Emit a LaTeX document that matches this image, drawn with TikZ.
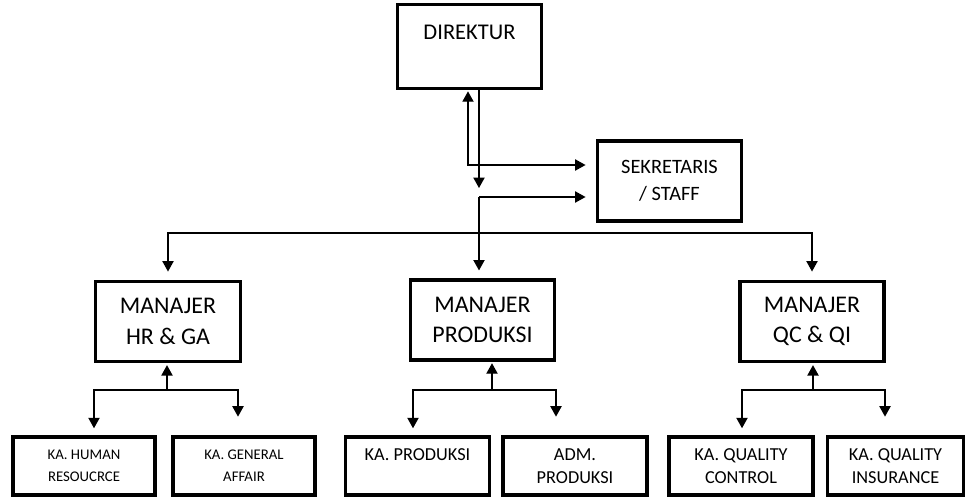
\documentclass[tikz,border=0pt]{standalone}
\usepackage{fontspec}
\setmainfont{Carlito}
\usetikzlibrary{arrows.meta}

\begin{document}
\begin{tikzpicture}[x=0.025cm,y=-0.025cm,
  >={Triangle[length=2.6mm,width=2.8mm]},
  box/.style={draw=black,line width=2.2pt,rectangle,align=center,inner sep=0pt},
  link/.style={draw=black,line width=0.9pt}]
\useasboundingbox (0,0) rectangle (965,497);

% Direktur and secretary
\node[box,minimum width=3.62cm,minimum height=2.08cm,font=\fontsize{16}{20}\selectfont] (direktur) at (469.5,46.5) {DIREKTUR\\\mbox{}};
\node[box,minimum width=3.62cm,minimum height=2cm,font=\fontsize{14.5}{19}\selectfont] (sekretaris) at (669.5,181) {SEKRETARIS\\/ STAFF};

% Managers
\node[box,minimum width=3.62cm,minimum height=2.02cm,font=\fontsize{17}{21.5}\selectfont] (mhr) at (168,321.5) {MANAJER\\HR \& GA};
\node[box,minimum width=3.62cm,minimum height=2cm,font=\fontsize{17}{21.5}\selectfont] (mprod) at (482.5,320) {MANAJER\\PRODUKSI};
\node[box,minimum width=3.6cm,minimum height=2.02cm,font=\fontsize{17}{21.5}\selectfont] (mqc) at (812,321.5) {MANAJER\\QC \& QI};

% Heads of section
\node[box,minimum width=3.55cm,minimum height=1.45cm,font=\fontsize{10.5}{15.5}\selectfont] (kahr) at (84,466) {KA. HUMAN\\RESOUCRCE};
\node[box,minimum width=3.55cm,minimum height=1.45cm,font=\fontsize{10.5}{15.5}\selectfont] (kaga) at (244,466) {KA. GENERAL\\AFFAIR};
\node[box,minimum width=3.58cm,minimum height=1.45cm,font=\fontsize{13}{16}\selectfont] (kaprod) at (417.5,466) {KA. PRODUKSI\\\mbox{}};
\node[box,minimum width=3.6cm,minimum height=1.45cm,font=\fontsize{13}{16}\selectfont] (admprod) at (575,466) {ADM.\\PRODUKSI};
\node[box,minimum width=3.6cm,minimum height=1.45cm,font=\fontsize{13}{16}\selectfont] (kaqc) at (741,466) {KA. QUALITY\\CONTROL};
\node[box,minimum width=3.42cm,minimum height=1.45cm,font=\fontsize{13}{16}\selectfont] (kaqi) at (895.5,466) {KA. QUALITY\\INSURANCE};

% Direktur <-> secretary
\coordinate (dsplit) at (468,165);
\draw[link,<->,shorten <=1.2pt,shorten >=0.25cm] (direktur.south -| dsplit) -- (dsplit) -- (sekretaris.west |- dsplit);
\coordinate (ddown) at (479,188);
\draw[link,->] (direktur.south -| ddown) -- (ddown);

% secretary and managers
\coordinate (sjoin) at (479,197);
\draw[link,->,shorten >=0.25cm] (sjoin) -- (sekretaris.west |- sjoin);
\draw[link,->,shorten >=0.2cm] (sjoin) -- (sjoin |- mprod.north);
\coordinate (bus) at (479,233);
\draw[link,->,shorten >=0.2cm] (bus) -| (mhr.north);
\draw[link,->,shorten >=0.2cm] (bus) -| (mqc.north);

% managers and heads of section
\foreach \m/\a/\b/\sx/\lx/\rx in {mhr/kahr/kaga/167/94/238,mprod/kaprod/admprod/492/413/556,mqc/kaqc/kaqi/813/742/885} {
  \coordinate (s\m) at (\sx,390);
  \draw[link,->,shorten >=1.2pt] (s\m) -- (s\m |- \m.south);
  \draw[link,->,shorten >=0.18cm] (s\m) -| (\a.north -| \lx,0);
  \draw[link,->,shorten >=0.47cm] (s\m) -| (\b.north -| \rx,0);
}
\end{tikzpicture}
\end{document}
